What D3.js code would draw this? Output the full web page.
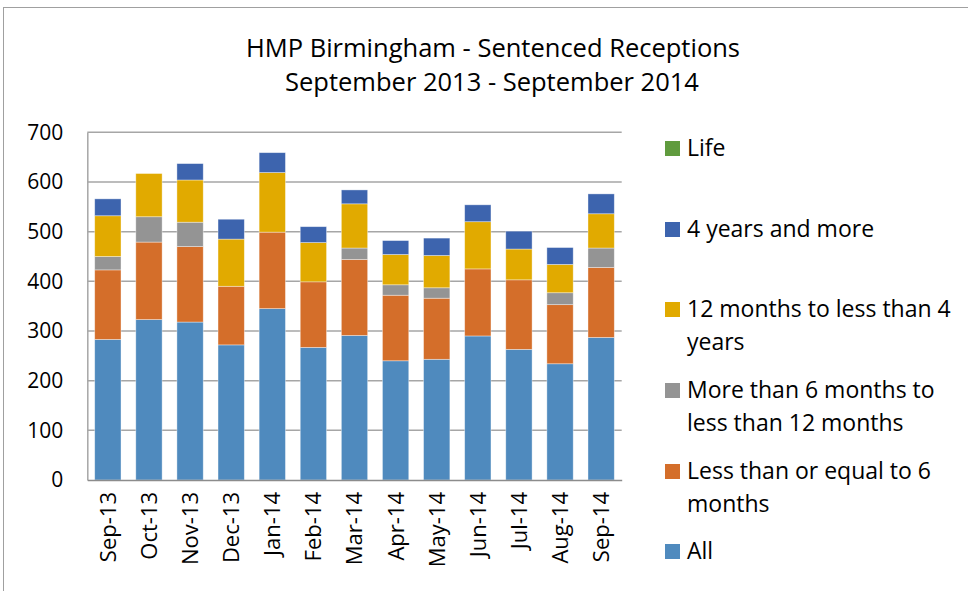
<!DOCTYPE html>
<html>
<head>
<style>
  body { margin: 0; background: #fff; }
  text { font-family: "Open Sans", sans-serif; fill: #000; }
</style>
</head>
<body>
<div id="chart"></div>
<script src="https://cdn.jsdelivr.net/npm/d3@7/dist/d3.min.js"></script>
<script>
// months on the x axis
var months = ["Sep-13","Oct-13","Nov-13","Dec-13","Jan-14","Feb-14","Mar-14",
              "Apr-14","May-14","Jun-14","Jul-14","Aug-14","Sep-14"];

// series, bottom of the stack first
var seriesNames = ["All", "Less than or equal to 6 months",
  "More than 6 months to less than 12 months",
  "12 months to less than 4 years", "4 years and more", "Life"];

var all        = [283, 323, 318, 272, 345, 267, 291, 240, 243, 290, 263, 234, 287];
var upTo6m     = [140, 156, 152, 118, 154, 132, 153, 132, 123, 135, 140, 119, 141];
var sixTo12m   = [ 27,  51,  49,   0,   0,   0,  23,  21,  21,   0,   0,  24,  39];
var twelveTo4y = [ 82,  87,  85,  95, 120,  79,  89,  61,  65,  95,  62,  57,  69];
var fourYears  = [ 34,   0,  33,  40,  40,  32,  28,  28,  35,  34,  36,  34,  40];
var life       = [  0,   0,   0,   0,   0,   0,   0,   0,   0,   0,   0,   0,   0];

var yTicks = [0, 100, 200, 300, 400, 500, 600, 700];

var colors = ["#4f8abe", "#d46e2a", "#949494", "#e1aa00", "#3d64ae", "#609b3e"];

// legend text split into lines the way the reference wraps it
var legendLines = {
  "Life": ["Life"],
  "4 years and more": ["4 years and more"],
  "12 months to less than 4 years": ["12 months to less than 4", "years"],
  "More than 6 months to less than 12 months": ["More than 6 months to", "less than 12 months"],
  "Less than or equal to 6 months": ["Less than or equal to 6", "months"],
  "All": ["All"]
};

var W = 968, H = 591;
var plot = {left: 87.3, right: 621.7, top: 132.3, bottom: 480};

var rows = months.map(function(m, i) {
  return {month: m, "All": all[i], "Less than or equal to 6 months": upTo6m[i],
    "More than 6 months to less than 12 months": sixTo12m[i],
    "12 months to less than 4 years": twelveTo4y[i],
    "4 years and more": fourYears[i], "Life": life[i]};
});

var svg = d3.select("#chart").append("svg")
  .attr("width", W).attr("height", H);

// chart frame
svg.append("rect")
  .attr("x", 3.5).attr("y", 7.5)
  .attr("width", 990).attr("height", 600)
  .attr("fill", "none").attr("stroke", "#a0a0a0").attr("stroke-width", 1);

var x = d3.scaleBand()
  .domain(months)
  .range([plot.left, plot.right])
  .paddingInner(0.36).paddingOuter(0.18);

var y = d3.scaleLinear()
  .domain([0, 700])
  .range([plot.bottom, plot.top]);

// gridlines
svg.append("g").selectAll("line")
  .data(yTicks.slice(1))
  .enter().append("line")
  .attr("x1", plot.left).attr("x2", plot.right)
  .attr("y1", function(d){ return y(d); })
  .attr("y2", function(d){ return y(d); })
  .attr("stroke", "#a6a6a6").attr("stroke-width", 1.5);

// y axis labels
var yAxis = d3.axisLeft(y).tickValues(yTicks).tickSize(0).tickPadding(24);
var gy = svg.append("g")
  .attr("transform", "translate(" + plot.left + ",0)")
  .call(yAxis);
gy.select(".domain").attr("stroke", "#a6a6a6").attr("stroke-width", 1.5);
gy.selectAll("text")
  .style("font-family", "'Open Sans', sans-serif")
  .style("font-size", "21px").attr("fill", "#000");

// stacked bars
var stack = d3.stack().keys(seriesNames);
var layers = stack(rows);

svg.append("g").selectAll("g")
  .data(layers)
  .enter().append("g")
  .attr("fill", function(d, i){ return colors[i]; })
  .selectAll("rect")
  .data(function(d){ return d; })
  .enter().append("rect")
  .filter(function(d){ return d[1] - d[0] > 0; })
  .attr("x", function(d){ return x(d.data.month); })
  .attr("width", x.bandwidth())
  .attr("y", function(d){ return y(d[1]); })
  .attr("height", function(d){ return y(d[0]) - y(d[1]); })
  .attr("stroke", "rgba(255,255,255,0.5)").attr("stroke-width", 0.75);

// x axis
var xAxis = d3.axisBottom(x).tickSize(0).tickPadding(0);
var gx = svg.append("g")
  .attr("transform", "translate(0," + plot.bottom + ")")
  .call(xAxis);
gx.select(".domain").attr("stroke", "#8c8c8c").attr("stroke-width", 1.5);
gx.selectAll("text")
  .style("font-family", "'Open Sans', sans-serif")
  .style("font-size", "22px").attr("fill", "#000")
  .attr("text-anchor", "end")
  .attr("dy", "0.36em")
  .attr("transform", function(){ return "translate(0,12) rotate(-90)"; })
  .attr("x", 0).attr("y", 0);

// title
var title = svg.append("text")
  .attr("text-anchor", "middle")
  .style("font-size", "25.5px");
title.append("tspan").attr("x", 493).attr("y", 57).text("HMP Birmingham - Sentenced Receptions");
title.append("tspan").attr("x", 492).attr("y", 91).text("September 2013 - September 2014");

// legend, reversed order like the reference
var legendOrder = seriesNames.slice().reverse();
var legendY = [148, 229, 309, 390, 471, 551];
var legend = svg.append("g").selectAll("g")
  .data(legendOrder)
  .enter().append("g")
  .attr("transform", function(d, i){ return "translate(665," + legendY[i] + ")"; });

legend.append("rect")
  .attr("x", 0).attr("y", -7)
  .attr("width", 15).attr("height", 15)
  .attr("fill", function(d){ return colors[seriesNames.indexOf(d)]; });

legend.append("text")
  .style("font-size", "23px")
  .each(function(d) {
    var t = d3.select(this);
    legendLines[d].forEach(function(line, j) {
      t.append("tspan").attr("x", 22).attr("y", j * 33).attr("dy", "0.36em").text(line);
    });
  });
</script>
</body>
</html>
